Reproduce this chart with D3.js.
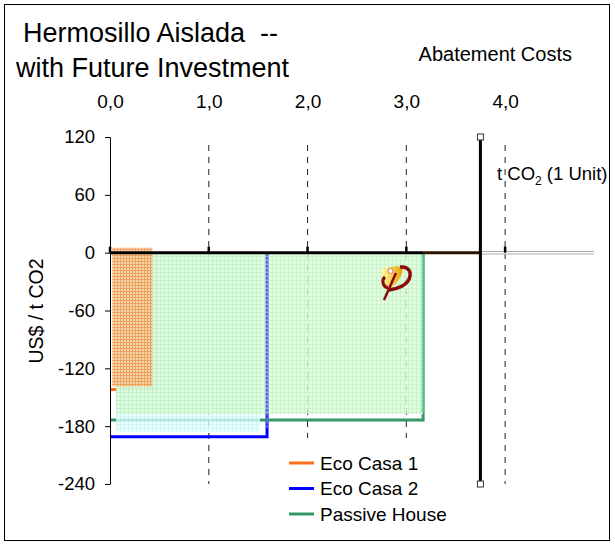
<!DOCTYPE html>
<html><head><meta charset="utf-8">
<script src="https://cdn.jsdelivr.net/npm/d3@7"></script>
<style>body{margin:0;background:#fff;} text{font-family:"Liberation Sans",Arial,sans-serif;fill:#000;white-space:pre;}</style>
</head><body><svg id="c" width="615" height="545"></svg>
<script>
// ---- data ----
const categories = ["Eco Casa 1", "Eco Casa 2", "Passive House"];
const abatement = [0.47, 1.59, 3.17];          // t CO2 (x extent)
const costs = [-142, -191, -173.5];             // US$ / t CO2
const seriesColors = ["#ff6e1a", "#0000ff", "#339966"];
const xTicks = [0, 1, 2, 3, 4];
const yTicks = [120, 60, 0, -60, -120, -180, -240];
const unitX = 3.75;

(function () {
const FF = "Liberation Sans, Arial, sans-serif";
const svg = d3.select("#c");
const x = d3.scaleLinear().domain([0, 4.9]).range([110, 594]);
const y = d3.scaleLinear().domain([-240, 120]).range([484, 137]);

// border
svg.append("rect").attr("x", 4.5).attr("y", 4.5).attr("width", 605).attr("height", 536)
  .attr("fill", "none").attr("stroke", "#000").attr("stroke-width", 1);

// patterns
const defs = svg.append("defs");
function grid(id, base, line, step, op) {
  const p = defs.append("pattern").attr("id", id).attr("patternUnits", "userSpaceOnUse")
    .attr("width", step).attr("height", step);
  p.append("rect").attr("width", step).attr("height", step).attr("fill", base);
  p.append("path").attr("d", `M0,0.5H${step}M0.5,0V${step}`).attr("stroke", line).attr("stroke-width", 1).attr("opacity", op);
}
grid("pg", "#dcfcdc", "#bdf0bd", 4, 1);
grid("pc", "#e4ffff", "#c8f4f4", 4, 1);
grid("po", "#f8d2a4", "#f47a2a", 3, 0.8);

// titles
svg.append("text").attr("x", 23).attr("y", 42).attr("font-size", 27).text("Hermosillo Aislada  --");
svg.append("text").attr("x", 16).attr("y", 77).attr("font-size", 27).text("with Future Investment");
svg.append("text").attr("x", 572).attr("y", 61).attr("text-anchor", "end").attr("font-size", 20).text("Abatement Costs");

// dashed gridlines
svg.append("g").selectAll("line").data(xTicks.filter(d => d > 0)).join("line")
  .attr("x1", d => x(d)).attr("x2", d => x(d)).attr("y1", 145).attr("y2", y(-240))
  .attr("stroke", "#222").attr("stroke-width", 1).attr("stroke-dasharray", "6,6");

// top axis labels
const topAxis = svg.append("g").attr("transform", "translate(0,108)")
  .call(d3.axisTop(x).tickValues(xTicks).tickSize(0).tickPadding(0)
    .tickFormat(d => d3.format(".1f")(d).replace(".", ",")));
topAxis.select(".domain").remove();
topAxis.selectAll("text").attr("font-size", 19).attr("font-family", FF).attr("fill", "#000").attr("dy", "0");

// series lines (step outlines)
[1, 2, 0].forEach(i => {
  svg.append("path")
    .attr("d", d3.line()([[x(0), y(costs[i])], [x(abatement[i]), y(costs[i])], [x(abatement[i]), y(0)]]))
    .attr("fill", "none").attr("stroke", seriesColors[i]).attr("stroke-width", 3);
});

// fills (semi-transparent, drawn over the lines)
const fills = [
  {i: 1, pat: "pc", x0: 6, dx: -7, t: 0, b: 5},
  {i: 2, pat: "pg", x0: 6, dx: 0, t: 0, b: 6},
  {i: 0, pat: "po", x0: 2, dx: -4, t: -5, b: 3}
];
fills.forEach(f => {
  const i = f.i;
  svg.append("rect")
    .attr("x", x(0) + f.x0).attr("y", y(0) + f.t)
    .attr("width", x(abatement[i]) + f.dx - x(0) - f.x0)
    .attr("height", y(costs[i]) - f.b - y(0) - f.t)
    .attr("fill", `url(#${f.pat})`).attr("opacity", 0.82);
});
// vertical step edges seen through the fills (dotted look)
[[1, "#5a66ee"], [2, "#66c899"]].forEach(([i, col]) => {
  svg.append("line").attr("x1", x(abatement[i])).attr("x2", x(abatement[i]))
    .attr("y1", y(0)).attr("y2", y(costs[i]) - 8)
    .attr("stroke", col).attr("stroke-width", 3).attr("stroke-dasharray", "3,1");
});

// left axis
const left = svg.append("g").attr("transform", `translate(${x(0)},0)`)
  .call(d3.axisLeft(y).tickValues(yTicks).tickSize(5).tickPadding(10).tickSizeOuter(0)
    .tickFormat(d => String(d)));
left.selectAll("text").attr("font-size", 18.5).attr("font-family", FF).attr("fill", "#000");
left.selectAll("line, path").attr("stroke", "#000");

svg.append("text").attr("transform", `translate(43,311) rotate(-90)`)
  .attr("text-anchor", "middle").attr("font-size", 19.5).text("US$ / t CO2");

// zero line
svg.append("line").attr("x1", x(unitX)).attr("x2", x(4.9)).attr("y1", y(0)).attr("y2", y(0))
  .attr("stroke", "#aaa").attr("stroke-width", 3.5);
svg.append("line").attr("x1", x(unitX)).attr("x2", x(4.9)).attr("y1", y(0)).attr("y2", y(0))
  .attr("stroke", "#fff").attr("stroke-width", 1.5);
svg.append("line").attr("x1", x(0)).attr("x2", x(abatement[2])).attr("y1", y(0)).attr("y2", y(0))
  .attr("stroke", "#000").attr("stroke-width", 3);
svg.append("line").attr("x1", x(abatement[2])).attr("x2", x(unitX)).attr("y1", y(0)).attr("y2", y(0))
  .attr("stroke", "#2e1400").attr("stroke-width", 3);
svg.append("g").selectAll("line").data(xTicks).join("line")
  .attr("x1", d => x(d)).attr("x2", d => x(d)).attr("y1", y(0) - 6).attr("y2", y(0))
  .attr("stroke", "#000").attr("stroke-width", 2.5);

// legend (white box covers gridlines)
svg.append("rect").attr("x", 283).attr("y", 438).attr("width", 172).attr("height", 92).attr("fill", "#fff");
categories.forEach((c, i) => {
  const ly = 463 + i * 25.5;
  svg.append("line").attr("x1", 289).attr("x2", 314).attr("y1", ly).attr("y2", ly)
    .attr("stroke", seriesColors[i]).attr("stroke-width", 3);
  svg.append("text").attr("x", 320).attr("y", ly + 6.5).attr("font-size", 19).text(c);
});

// unit vertical line
svg.append("line").attr("x1", x(unitX)).attr("x2", x(unitX)).attr("y1", y(120)).attr("y2", y(-240))
  .attr("stroke", "#000").attr("stroke-width", 3);
[120, -240].forEach(v => svg.append("rect").attr("x", x(unitX) - 3).attr("y", y(v) - 3)
  .attr("width", 6).attr("height", 6).attr("fill", "#fff").attr("stroke", "#333").attr("stroke-width", 1));
const ul = svg.append("text").attr("x", 497).attr("y", 180).attr("font-size", 18.5);
ul.append("tspan").text("t CO");
ul.append("tspan").attr("font-size", 12).attr("dy", 5).text("2");
ul.append("tspan").attr("dy", -5).text(" (1 Unit)");

// logo
const lg = svg.append("g").attr("transform", "translate(369,259)");
const grad = defs.append("linearGradient").attr("id", "lgg").attr("x1", 0).attr("x2", 1);
grad.append("stop").attr("offset", "0").attr("stop-color", "#fff8a0");
grad.append("stop").attr("offset", "1").attr("stop-color", "#e8a000");
lg.append("path").attr("d", "M13,11 C20,7 29,6 34,9 C33,18 27,27 18,31 C14,24 12,17 13,11Z").attr("fill", "url(#lgg)");
lg.append("path").attr("d", "M31,8 C40,7 44,14 39,22 C35,28 27,30 20,31").attr("fill", "none").attr("stroke", "#8b0a0a").attr("stroke-width", 3.5);
lg.append("path").attr("d", "M16,18 C12,21 14,28 19,29").attr("fill", "none").attr("stroke", "#8b0a0a").attr("stroke-width", 3);
lg.append("path").attr("d", "M27,14 L15,41").attr("fill", "none").attr("stroke", "#8b0a0a").attr("stroke-width", 2.5);
lg.append("circle").attr("cx", 21.5).attr("cy", 12).attr("r", 2.5).attr("fill", "#fff").attr("stroke", "#e07060").attr("stroke-width", 1);
})();
</script></body></html>
